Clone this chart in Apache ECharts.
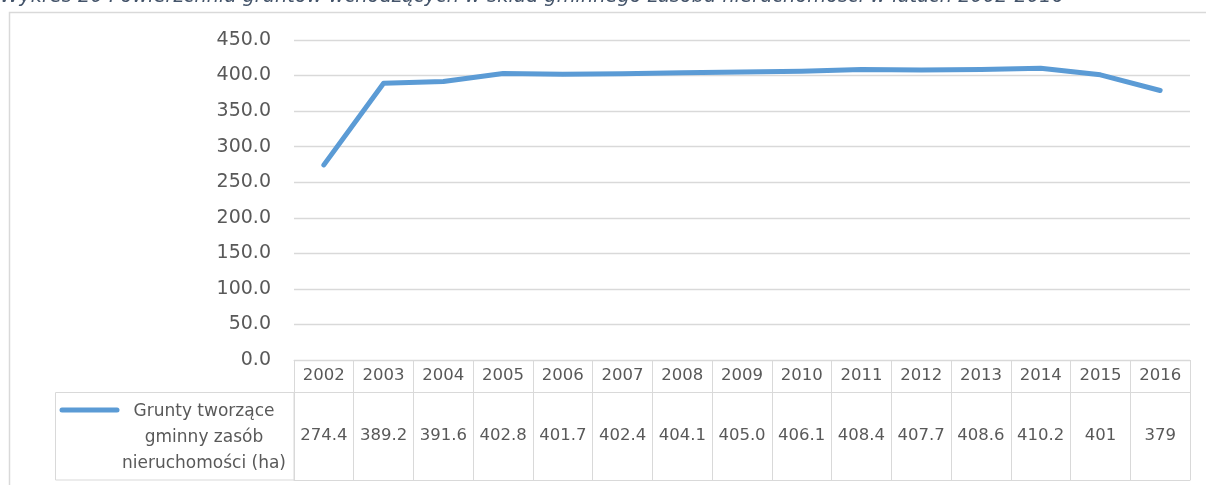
<!DOCTYPE html>
<html><head><meta charset="utf-8">
<script src="https://cdn.jsdelivr.net/npm/echarts@6/dist/echarts.min.js"></script>
<style>html,body{margin:0;padding:0;background:#fff}#c{width:1206px;height:485px}</style>
</head><body><div id="c"></div>
<script>
const chartTitle = 'Wykres 20 Powierzchnia gruntów wchodzących w skład gminnego zasobu nieruchomości w latach 2002-2016';
const seriesName = 'Grunty tworzące gminny zasób nieruchomości (ha)';
const legendLines = ['Grunty tworzące', 'gminny zasób', 'nieruchomości (ha)'];
const years = ['2002','2003','2004','2005','2006','2007','2008','2009','2010','2011','2012','2013','2014','2015','2016'];
const values = [274.4, 389.2, 391.6, 402.8, 401.7, 402.4, 404.1, 405.0, 406.1, 408.4, 407.7, 408.6, 410.2, 401, 379];
const tableLabels = ['274.4','389.2','391.6','402.8','401.7','402.4','404.1','405.0','406.1','408.4','407.7','408.6','410.2','401','379'];
const yMin = 0, yMax = 450, yStep = 50;

const FONT = 'DejaVu Sans';
const TXT = '#595959';
const GRID = '#D9D9D9';
const BLUE = '#5B9BD5';

const chart = echarts.init(document.getElementById('c'), null, {renderer: 'canvas'});
chart.setOption({
  animation: false,
  grid: {left: 294, right: 16, top: 40, bottom: 125, containLabel: false},
  xAxis: [
    {
      type: 'category', data: years, boundaryGap: true, position: 'bottom',
      axisLine: {show: true, lineStyle: {color: GRID, width: 1}},
      axisTick: {show: true, length: 32, interval: 0, alignWithLabel: false, lineStyle: {color: GRID, width: 1}},
      axisLabel: {interval: 0, fontFamily: FONT, fontSize: 16.5, color: TXT, margin: 16, verticalAlign: 'middle'},
      splitLine: {show: false}
    },
    {
      type: 'category', data: years, boundaryGap: true, position: 'bottom', offset: 32,
      axisLine: {show: true, lineStyle: {color: GRID, width: 1}},
      axisTick: {show: true, length: 88, interval: 0, alignWithLabel: false, lineStyle: {color: GRID, width: 1}},
      axisLabel: {interval: 0, fontFamily: FONT, fontSize: 16.5, color: TXT, margin: 44, verticalAlign: 'middle',
        formatter: (v, i) => tableLabels[i]},
      splitLine: {show: false}
    },
    {
      type: 'category', data: years, boundaryGap: true, position: 'bottom', offset: 120,
      axisLine: {show: true, lineStyle: {color: GRID, width: 1}},
      axisTick: {show: false}, axisLabel: {show: false}, splitLine: {show: false}
    }
  ],
  yAxis: {
    type: 'value', min: yMin, max: yMax, interval: yStep,
    axisLine: {show: false}, axisTick: {show: false},
    axisLabel: {fontFamily: FONT, fontSize: 19, color: TXT, margin: 23, formatter: v => v.toFixed(1)},
    splitLine: {show: true, lineStyle: {color: GRID, width: 1.3}}
  },
  series: [{
    name: seriesName, type: 'line', xAxisIndex: 0, data: values,
    symbol: 'none', smooth: false,
    lineStyle: {color: BLUE, width: 5, cap: 'round', join: 'round'},
    z: 5
  }],
  graphic: [
    {type: 'rect', silent: true, z: -10, shape: {x: 9.5, y: 12.5, width: 1400, height: 800},
      style: {fill: 'none', stroke: GRID, lineWidth: 1.5}},
    {type: 'rect', silent: true, shape: {x: 55.5, y: 392.5, width: 238.5, height: 87.5},
      style: {fill: 'none', stroke: GRID, lineWidth: 1}},
    {type: 'line', silent: true, shape: {x1: 62, y1: 410, x2: 117, y2: 410},
      style: {stroke: BLUE, lineWidth: 5, lineCap: 'round'}},
    {type: 'text', silent: true, x: 204, y: 438,
      style: {text: legendLines.join('\n'), fontFamily: FONT, fontSize: 17, fill: TXT,
        align: 'center', verticalAlign: 'middle', lineHeight: 26}},
    {type: 'text', silent: true, x: 0, y: -3,
      style: {text: chartTitle, fontFamily: FONT, fontStyle: 'italic', fontSize: 19.4, fill: '#44546A',
        align: 'left', verticalAlign: 'middle'}}
  ]
});
</script>
</body></html>
